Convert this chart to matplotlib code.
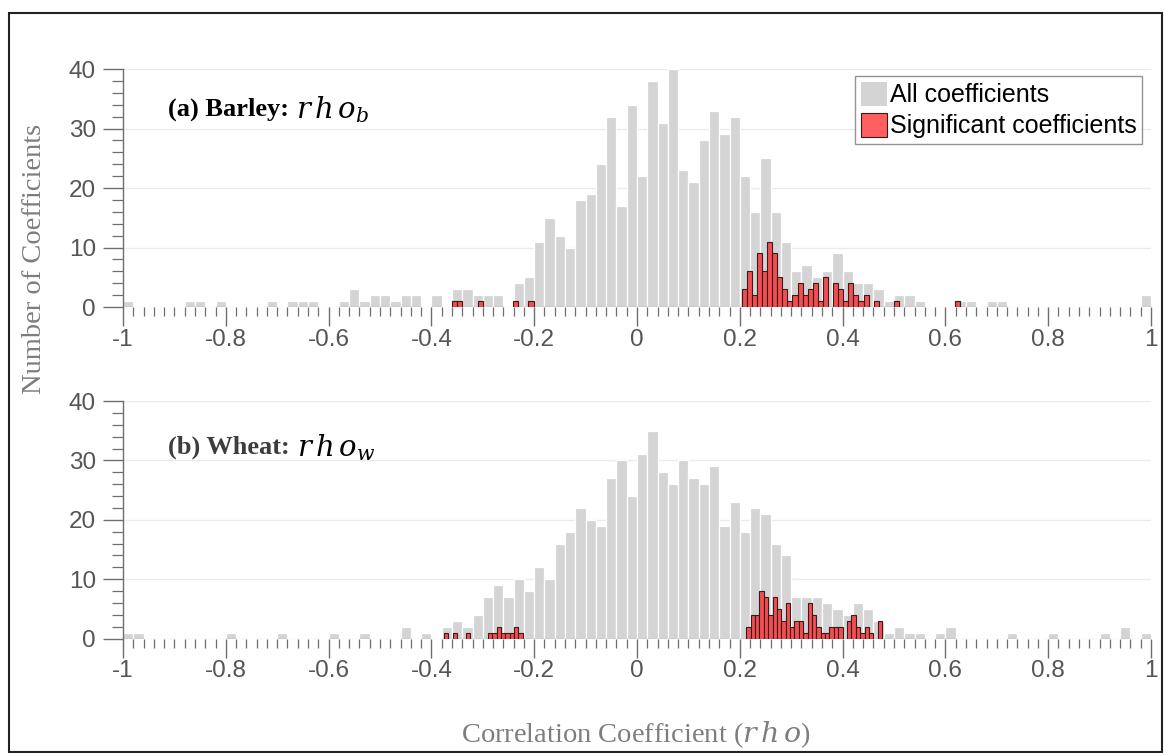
import numpy as np
import matplotlib
matplotlib.use("Agg")
import matplotlib.pyplot as plt
from matplotlib.patches import Patch, Rectangle

# ---------------- data ----------------
# gray histogram: 100 bins of width 0.02 on [-1, 1]
gray_range = (-1.0, 1.0)
gray_a = [1, 0, 0, 0, 0, 0, 1, 1, 0, 1,
          0, 0, 0, 0, 1, 0, 1, 1, 1, 0,
          0, 1, 3, 1, 2, 2, 1, 2, 2, 0,
          2, 0, 3, 3, 2, 2, 2, 0, 4, 5,
          11, 15, 12, 10, 18, 19, 24, 32, 17, 34,
          22, 38, 31, 40, 23, 21, 28, 33, 29, 32,
          22, 16, 25, 16, 11, 6, 7, 5, 6, 9,
          6, 4, 4, 3, 1, 2, 2, 1, 0, 0,
          0, 1, 1, 0, 1, 1, 0, 0, 0, 0,
          0, 0, 0, 0, 0, 0, 0, 0, 0, 2]
gray_b = [1, 1, 0, 0, 0, 0, 0, 0, 0, 0,
          1, 0, 0, 0, 0, 1, 0, 0, 0, 0,
          1, 0, 0, 1, 0, 0, 0, 2, 0, 1,
          0, 2, 3, 2, 4, 7, 9, 7, 10, 8,
          12, 10, 16, 18, 22, 20, 19, 27, 30, 24,
          31, 35, 28, 26, 30, 27, 26, 29, 19, 23,
          18, 22, 21, 16, 14, 7, 7, 7, 6, 5,
          4, 6, 5, 3, 1, 2, 1, 1, 0, 1,
          2, 0, 0, 0, 0, 0, 1, 0, 0, 0,
          1, 0, 0, 0, 0, 1, 0, 2, 0, 1]

# red histogram of significant coefficients: 100 bins spanning min..max
red_range_a = (-0.3593, 0.6284)
red_a = [1, 1, 0, 0, 0, 1, 0, 0, 0, 0, 0, 0, 1, 0, 0, 1, 0, 0, 0, 0,
         0, 0, 0, 0, 0, 0, 0, 0, 0, 0, 0, 0, 0, 0, 0, 0, 0, 0, 0, 0,
         0, 0, 0, 0, 0, 0, 0, 0, 0, 0, 0, 0, 0, 0, 0, 0, 0, 3, 6, 2,
         9, 6, 11, 9, 5, 3, 1, 2, 4, 2, 3, 4, 1, 5, 0, 4, 3, 1, 4, 2,
         1, 2, 0, 1, 0, 0, 0, 1, 0, 0, 0, 0, 0, 0, 0, 0, 0, 0, 0, 1]
red_range_b = (-0.3755, 0.4767)
red_b = [1, 0, 1, 0, 0, 1, 0, 0, 0, 0, 1, 1, 2, 1, 1, 1, 2, 1, 0, 0,
         0, 0, 0, 0, 0, 0, 0, 0, 0, 0, 0, 0, 0, 0, 0, 0, 0, 0, 0, 0,
         0, 0, 0, 0, 0, 0, 0, 0, 0, 0, 0, 0, 0, 0, 0, 0, 0, 0, 0, 0,
         0, 0, 0, 0, 0, 0, 0, 0, 0, 2, 4, 4, 8, 7, 4, 7, 5, 3, 6, 2,
         3, 3, 1, 6, 4, 2, 1, 1, 2, 2, 2, 0, 3, 4, 2, 1, 2, 1, 0, 3]

panel_names = ["(a) Barley:", "(b) Wheat:"]
panel_symbols = [r"$r\,h\,o_b$", r"$r\,h\,o_w$"]
legend_labels = ["All coefficients", "Significant coefficients"]
x_ticks = [-1, -0.8, -0.6, -0.4, -0.2, 0, 0.2, 0.4, 0.6, 0.8, 1]
x_ticklabels = ["-1", "-0.8", "-0.6", "-0.4", "-0.2", "0", "0.2", "0.4", "0.6", "0.8", "1"]
y_ticks = [0, 10, 20, 30, 40]
xlabel = r"Correlation Coefficient ($r\,h\,o$)"
ylabel = "Number of Coefficients"

# ---------------- style ----------------
plt.rcParams["font.family"] = ["Liberation Sans", "DejaVu Sans"]
plt.rcParams["mathtext.fontset"] = "custom"
plt.rcParams["mathtext.it"] = "DejaVu Serif:italic"
plt.rcParams["mathtext.rm"] = "DejaVu Serif"

GRAY = "#d4d4d4"
RED = "#f24e52"
RED_EDGE = "#3a1a1a"
AX_COLOR = "#6e6e6e"
TXT_COLOR = "#555555"

W, H = 1164, 753
fig = plt.figure(figsize=(W / 100, H / 100), dpi=100)


def px_axes(left, top, right, bottom):
    return fig.add_axes([left / W, 1 - bottom / H, (right - left) / W, (bottom - top) / H])


ax_a = px_axes(123, 69, 1151, 307)
ax_b = px_axes(123, 401, 1151, 638.5)

panels = [
    (ax_a, gray_a, red_a, red_range_a, 0, "black", 109),
    (ax_b, gray_b, red_b, red_range_b, 1, "#3d3d3d", 447),
]

renderer = fig.canvas.get_renderer()

for ax, gray, red, rrange, idx, tcolor, ty in panels:
    gray = np.asarray(gray)
    red = np.asarray(red)
    gedges = np.linspace(gray_range[0], gray_range[1], len(gray) + 1)
    redges = np.linspace(rrange[0], rrange[1], len(red) + 1)

    gm = gray > 0
    ax.bar(gedges[:-1][gm], gray[gm], width=np.diff(gedges)[gm], align="edge",
           color=GRAY, edgecolor="white", linewidth=0.9, zorder=2)
    # baseline under populated bins
    ax.hlines(np.zeros(gm.sum()), gedges[:-1][gm], gedges[1:][gm],
              color="#9a9a9a", linewidth=1.0, zorder=3)

    rm = red > 0
    ax.bar(redges[:-1][rm], red[rm], width=np.diff(redges)[rm], align="edge",
           color=RED, edgecolor=RED_EDGE, linewidth=0.8, zorder=4)

    ax.set_xlim(-1, 1)
    ax.set_ylim(0, 40)
    ax.set_xticks(x_ticks)
    ax.set_xticklabels(x_ticklabels)
    ax.set_xticks(np.linspace(-1, 1, 101), minor=True)
    ax.set_yticks(y_ticks)
    ax.set_yticks(np.arange(0, 41, 2), minor=True)

    ax.grid(axis="y", which="major", color="#ebebeb", linewidth=1.0, zorder=0)
    ax.set_axisbelow(True)

    for s in ("top", "right", "bottom"):
        ax.spines[s].set_visible(False)
    ax.spines["left"].set_color(AX_COLOR)
    ax.spines["left"].set_linewidth(1.0)

    ax.tick_params(axis="x", which="major", direction="out", length=13.5, width=1.0,
                   color=AX_COLOR, labelsize=17.5, labelcolor=TXT_COLOR, pad=2)
    ax.tick_params(axis="x", which="minor", direction="out", length=6.5, width=0.9,
                   color=AX_COLOR)
    ax.tick_params(axis="y", which="major", direction="out", length=14.4, width=1.0,
                   color=AX_COLOR, labelsize=17.5, labelcolor=TXT_COLOR, pad=5)
    ax.tick_params(axis="y", which="minor", direction="out", length=8, width=0.9,
                   color=AX_COLOR)

    t = fig.text(168 / W, 1 - ty / H, panel_names[idx], fontsize=19, fontweight="bold",
                 family="Liberation Serif", color=tcolor, ha="left", va="center",
                 zorder=6)
    bb = t.get_window_extent(renderer)
    fig.text((bb.x1 + 7) / W, 1 - (ty + 1) / H, panel_symbols[idx], fontsize=21,
             color="black", ha="left", va="center", zorder=6)

handles = [Patch(facecolor=GRAY, edgecolor="none"),
           Patch(facecolor="#ff5f5f", edgecolor=RED_EDGE, linewidth=0.8)]
leg = ax_a.legend(handles, legend_labels, loc="upper right",
                  bbox_to_anchor=(1142 / W, 1 - 76 / H), bbox_transform=fig.transFigure,
                  borderaxespad=0, fontsize=18, frameon=True, fancybox=False,
                  handlelength=1.05, handleheight=1.1, handletextpad=0.12,
                  labelspacing=0.22, borderpad=0.22)
leg.get_frame().set_edgecolor("#7a7a7a")
leg.get_frame().set_linewidth(1.0)
leg.set_zorder(10)

fig.text(35 / W, 1 - 259 / H, ylabel, rotation=90, ha="center", va="center",
         fontsize=20.5, family="Liberation Serif", color="#7d7d7d")
fig.text(636 / W, 1 - 735 / H, xlabel, ha="center", va="center",
         fontsize=20.5, family="Liberation Serif", color="#7d7d7d")

fig.patches.append(Rectangle((8.5 / W, 1 / H), (1162 - 8.5) / W, (752 - 12 - 1) / H,
                             transform=fig.transFigure, fill=False,
                             edgecolor="#222222", linewidth=1.5, zorder=0))

fig.savefig("out.png", dpi=100)
